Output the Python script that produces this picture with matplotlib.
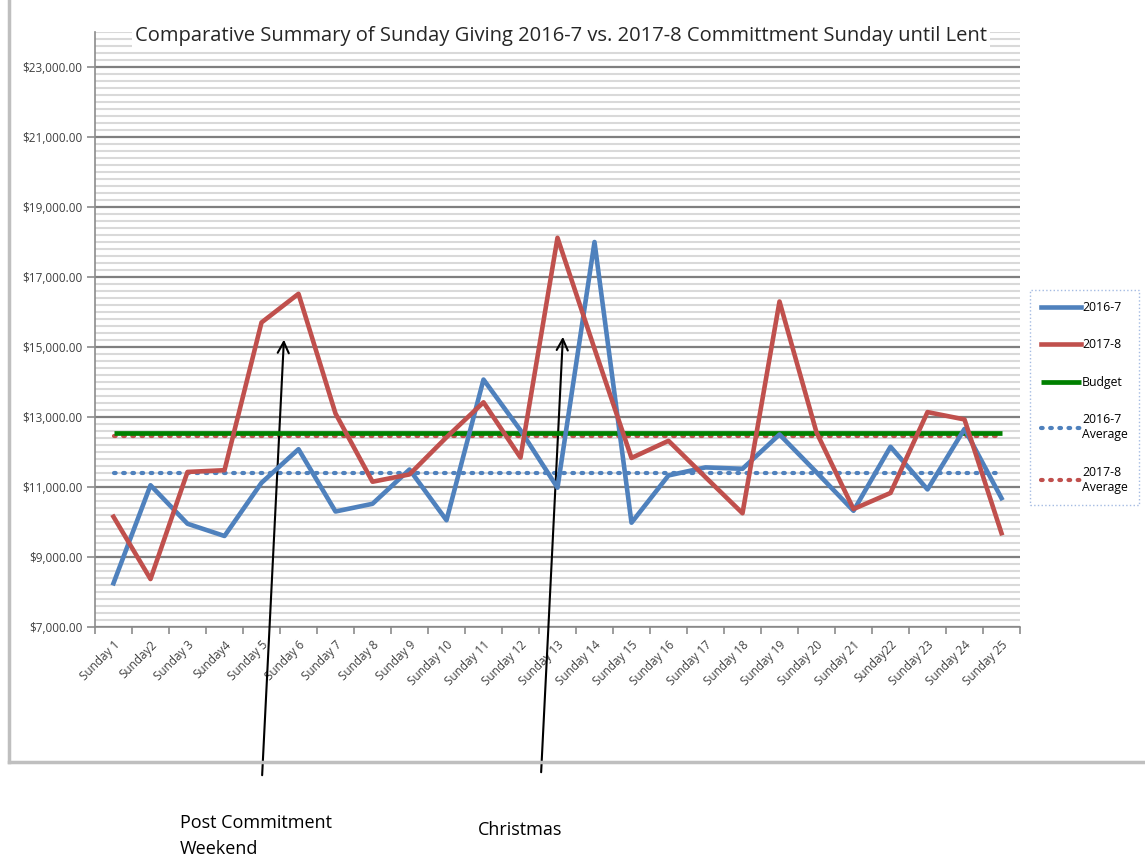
import numpy as np
import matplotlib
matplotlib.use('Agg')
import matplotlib.pyplot as plt
from matplotlib.lines import Line2D
from matplotlib.ticker import FixedLocator, MultipleLocator

plt.rcParams['font.family'] = ['Open Sans', 'DejaVu Sans']

sundays = ['Sunday 1', 'Sunday2', 'Sunday 3', 'Sunday4', 'Sunday 5', 'Sunday 6', 'Sunday 7',
           'Sunday 8', 'Sunday 9', 'Sunday 10', 'Sunday 11', 'Sunday 12', 'Sunday 13',
           'Sunday 14', 'Sunday 15', 'Sunday 16', 'Sunday 17', 'Sunday 18', 'Sunday 19',
           'Sunday 20', 'Sunday 21', 'Sunday22', 'Sunday 23', 'Sunday 24', 'Sunday 25']
giving_2016 = [8250, 11050, 9950, 9600, 11120, 12080, 10300, 10520, 11500, 10050, 14070, 12620,
               10980, 18000, 9980, 11330, 11560, 11520, 12500, 11420, 10320, 12150, 10930,
               12660, 10680]
giving_2017 = [10150, 8370, 11430, 11480, 15700, 16520, 13100, 11150, 11360, 12420, 13420, 11840,
               18120, 14950, 11830, 12320, 11280, 10250, 16300, 12560, 10370, 10830, 13140,
               12930, 9680]
budget = 12550
avg_2016 = 11400
avg_2017 = 12450
yticks = [7000, 9000, 11000, 13000, 15000, 17000, 19000, 21000, 23000]

blue = '#4f81bd'
red = '#c0504d'
green = '#008000'

fig = plt.figure(figsize=(11.45, 8.6), dpi=100)
ax = fig.add_axes([95 / 1145, 1 - 627 / 860, 925 / 1145, 595 / 860])

x = np.arange(len(sundays))
ax.plot(x, [budget] * len(x), color=green, lw=3.4, label='Budget', zorder=4, solid_capstyle='butt')
ax.plot(x, [avg_2016] * len(x), color=blue, lw=3, ls=(0, (0.4, 1.8)), dash_capstyle='round',
        label='2016-7\nAverage', zorder=3)
ax.plot(x, [avg_2017] * len(x), color=red, lw=3, ls=(0, (0.4, 1.8)), dash_capstyle='round',
        label='2017-8\nAverage', zorder=3)
ax.plot(x, giving_2016, color=blue, lw=3.3, label='2016-7', zorder=5)
ax.plot(x, giving_2017, color=red, lw=3.3, label='2017-8', zorder=6)

ax.set_xlim(-0.5, len(sundays) - 0.5)
ax.set_ylim(7000, 24000)

# grid lines
ax.yaxis.set_major_locator(FixedLocator(yticks))
ax.yaxis.set_minor_locator(MultipleLocator(200))
ax.yaxis.grid(True, which='major', color='#7f7f7f', lw=1.6)
ax.yaxis.grid(True, which='minor', color='#d9d9d9', lw=1.5)
ax.set_axisbelow(True)
ax.set_yticklabels(['${:,.2f}'.format(v) for v in yticks], fontsize=8.5, color='#404040')
ax.tick_params(axis='y', which='major', length=6, color='#8c8c8c', width=1.2, pad=3)
ax.tick_params(axis='y', which='minor', length=0)

ax.set_xticks(x)
ax.set_xticklabels(sundays, rotation=45, ha='right', rotation_mode='anchor', fontsize=8.5,
                   color='#404040')
ax.xaxis.set_minor_locator(FixedLocator(np.arange(-0.5, len(sundays), 1.0)))
ax.tick_params(axis='x', which='major', length=0, pad=8)
ax.tick_params(axis='x', which='minor', length=5, color='#8c8c8c', width=1.2)

for s in ['top', 'right']:
    ax.spines[s].set_visible(False)
for s in ['left', 'bottom']:
    ax.spines[s].set_color('#8c8c8c')
    ax.spines[s].set_linewidth(1.2)

# legend
handles, labels = ax.get_legend_handles_labels()
order = [3, 4, 0, 1, 2]
leg = ax.legend([handles[i] for i in order], [labels[i] for i in order],
                loc='upper left', bbox_to_anchor=(1030 / 1145, 1 - 290 / 860),
                bbox_transform=fig.transFigure, fontsize=8.8, frameon=True,
                labelspacing=2.0, handlelength=3.3, handletextpad=0.05,
                borderpad=0.9, borderaxespad=0, fancybox=False)
leg.get_frame().set_edgecolor('#8eaadb')
leg.get_frame().set_linestyle(':')
leg.get_frame().set_linewidth(1.0)

# title
fig.text(561 / 1145, 1 - 36 / 860,
         'Comparative Summary of Sunday Giving 2016-7 vs. 2017-8 Committment Sunday until Lent',
         ha='center', va='center', fontsize=14.5, color='#262626',
         bbox=dict(facecolor='white', edgecolor='none', pad=2), zorder=10)

# chart area border
fig.add_artist(Line2D([9 / 1145, 9 / 1145], [1 - 762 / 860, 1.0], transform=fig.transFigure,
                      color='#bfbfbf', lw=2.5))
fig.add_artist(Line2D([9 / 1145, 1.0], [1 - 762 / 860, 1 - 762 / 860], transform=fig.transFigure,
                      color='#bfbfbf', lw=2.5))

# annotations
ax.annotate('', xy=(4.61, 15290), xycoords='data', xytext=(262, 860 - 778),
            textcoords='figure pixels',
            arrowprops=dict(arrowstyle='->,head_length=0.8,head_width=0.4', color='black', lw=1.5),
            annotation_clip=False)
ax.annotate('', xy=(12.15, 15370), xycoords='data', xytext=(541, 860 - 775),
            textcoords='figure pixels',
            arrowprops=dict(arrowstyle='->,head_length=0.8,head_width=0.4', color='black', lw=1.5),
            annotation_clip=False)
fig.text(180 / 1145, 1 - 836 / 860, 'Post Commitment\nWeekend', ha='left', va='center',
         fontsize=13, linespacing=1.6, color='black')
fig.text(478 / 1145, 1 - 830 / 860, 'Christmas', ha='left', va='center', fontsize=13,
         color='black')

fig.savefig('out.png', dpi=100)
